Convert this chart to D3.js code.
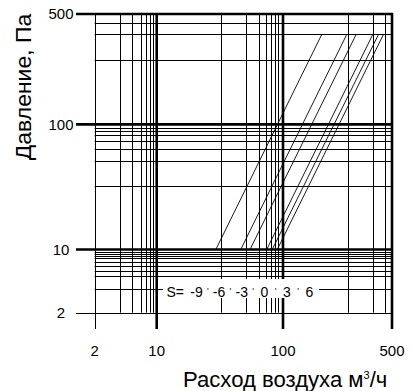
<!DOCTYPE html>
<html>
<head>
<meta charset="utf-8">
<script src="https://cdn.jsdelivr.net/npm/d3@7/dist/d3.min.js"></script>
<style>
  html, body { margin: 0; padding: 0; background: #fff; }
  svg { display: block; }
  text { font-family: "Liberation Sans", Arial, sans-serif; fill: #000; }
</style>
</head>
<body>
<svg id="chart" width="412" height="391"></svg>
<script>
// ---- data ----
const xMajor = [2, 10, 100, 500];
const yMajor = [2, 10, 100, 500];
const xMinor = [3.9, 5.2, 6.6, 7.5, 8.5, 9.2, 32, 51, 64, 73, 81, 86, 91, 260, 376, 451];
const yMinor = [3.7, 5.1, 5.85, 6.5, 7.35, 8.0, 8.5, 8.95, 9.5, 32, 51, 64, 74, 82, 88, 94, 254, 374, 437];
const xTickLabels = ["2", "10", "100", "500"];
const yTickLabels = ["2", "10", "100", "500"];
const sValues = [-9, -6, -3, 0, 3, 6];
const flowAtLowP = [29.4, 46.3, 54.8, 74.3, 82.2, 90.1];
const flowAtHighP = [177, 256, 294, 376, 409, 440];
const pressureRange = [10, 370];
const xTitle = "Расход воздуха м";
const yTitle = "Давление, Па";

// ---- scales (piecewise log, as in the printed nomogram) ----
const x = d3.scaleLog().domain([2, 10, 100, 500]).range([94.7, 156.7, 283, 392]);
const y = d3.scaleLog().domain([2, 10, 100, 500]).range([312.7, 249.5, 124.4, 14]);

const svg = d3.select("#chart");
const X0 = x(2), X1 = x(500), Y0 = y(2), Y1 = y(500);
const crisp = v => Math.round(v) + 0.5;
const isThick = v => v !== 2;

// minor grid
svg.append("g").selectAll("line").data(xMinor).join("line")
  .attr("x1", d => crisp(x(d))).attr("x2", d => crisp(x(d)))
  .attr("y1", Y1).attr("y2", Y0)
  .attr("stroke", "#000").attr("stroke-width", 1);
svg.append("g").selectAll("line").data(yMinor).join("line")
  .attr("y1", d => crisp(y(d))).attr("y2", d => crisp(y(d)))
  .attr("x1", X0).attr("x2", X1)
  .attr("stroke", "#000").attr("stroke-width", 1);

// major grid (extended as ticks)
svg.append("g").selectAll("line").data(xMajor).join("line")
  .attr("x1", d => isThick(d) ? x(d) : crisp(x(d)))
  .attr("x2", d => isThick(d) ? x(d) : crisp(x(d)))
  .attr("y1", Y1 - 1).attr("y2", 329)
  .attr("stroke", "#000").attr("stroke-width", d => isThick(d) ? 2.6 : 1);
svg.append("g").selectAll("line").data(yMajor).join("line")
  .attr("y1", d => isThick(d) ? y(d) : crisp(y(d)))
  .attr("y2", d => isThick(d) ? y(d) : crisp(y(d)))
  .attr("x1", 76).attr("x2", X1 + 1)
  .attr("stroke", "#000").attr("stroke-width", d => isThick(d) ? 2.6 : 1);

// characteristic lines
const lines = sValues.map((s, i) => [[flowAtLowP[i], pressureRange[0]], [flowAtHighP[i], pressureRange[1]]]);
const lineGen = d3.line().x(d => x(d[0])).y(d => y(d[1]));
svg.append("g").selectAll("path").data(lines).join("path")
  .attr("d", lineGen)
  .attr("fill", "none").attr("stroke", "#000").attr("stroke-width", 0.9);

// S legend
const lg = svg.append("g");
lg.append("rect").attr("x", 163).attr("y", 279).attr("width", 156).attr("height", 19).attr("fill", "#fff");
lg.append("text").attr("x", 166.5).attr("y", 297.3).attr("font-size", 14).text("S=");
const legStep = 22.6, legX0 = 196.5;
lg.selectAll("text.sv").data(sValues).join("text").attr("class", "sv")
  .attr("x", (d, i) => legX0 + i * legStep).attr("y", 297.3)
  .attr("text-anchor", "middle").attr("font-size", 14)
  .text(d => String(d));
lg.selectAll("text.sep").data(sValues.slice(1)).join("text").attr("class", "sep")
  .attr("x", (d, i) => legX0 + (i + 0.5) * legStep).attr("y", 294)
  .attr("text-anchor", "middle").attr("font-size", 9)
  .text("'");

// tick labels
svg.append("g").selectAll("text").data(xMajor).join("text")
  .attr("x", d => x(d)).attr("y", 355.5)
  .attr("text-anchor", "middle").attr("font-size", 15)
  .text((d, i) => xTickLabels[i]);
svg.append("g").selectAll("text").data(yMajor).join("text")
  .attr("x", 61).attr("y", d => y(d)).attr("dy", "0.36em")
  .attr("text-anchor", "middle").attr("font-size", 15)
  .text((d, i) => yTickLabels[i]);

// axis titles
const xt = svg.append("text").attr("x", 183).attr("y", 386.5).attr("font-size", 20);
xt.append("tspan").text(xTitle);
xt.append("tspan").attr("dy", -8).attr("font-size", 11).text("3");
xt.append("tspan").attr("dy", 8).text("/ч");
// fit the title between x=183 and x=389 as in the reference
const w = xt.node().getBBox().width;
if (w > 0) xt.attr("font-size", 20 * 205 / w);

const yt = svg.append("text")
  .attr("transform", "translate(31,87) rotate(-90)")
  .attr("text-anchor", "middle").attr("font-size", 21)
  .text(yTitle);
const wy = yt.node().getBBox().width;
if (wy > 0) yt.attr("font-size", 21 * 147 / wy);
</script>
</body>
</html>
